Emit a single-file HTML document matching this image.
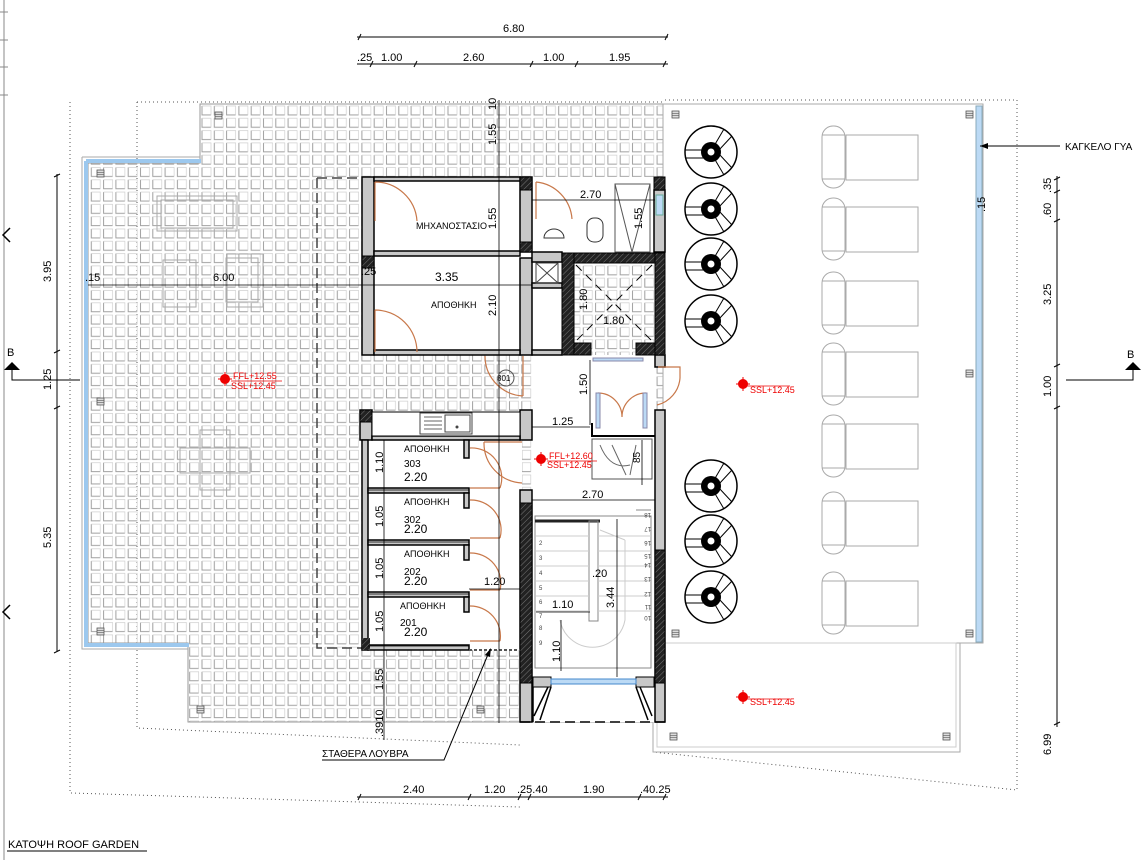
<!DOCTYPE html>
<html><head><meta charset="utf-8"><style>
html,body{margin:0;padding:0;background:#fff;}
svg{display:block;font-family:"Liberation Sans",sans-serif;}
</style></head><body>
<svg width="1144" height="860" viewBox="0 0 1144 860" xmlns="http://www.w3.org/2000/svg">
<defs>
<pattern id="tile" x="200" y="104" width="12.3" height="12.3" patternUnits="userSpaceOnUse">
<path d="M2 2 V11 H11" fill="none" stroke="#a0a0a0" stroke-width="1"/>
<path d="M2 2 H11 V11" fill="none" stroke="#d0d0d0" stroke-width="0.7"/>
</pattern>
<pattern id="hatch" width="4" height="4" patternUnits="userSpaceOnUse" patternTransform="rotate(45)">
<rect width="4" height="4" fill="#222"/><line x1="0" y1="0" x2="0" y2="4" stroke="#777" stroke-width="1"/>
</pattern>
<g id="umb">
<circle r="26" fill="#fff" stroke="#000" stroke-width="1.5"/>
<line x1="-26" y1="-2" x2="-6" y2="-2" stroke="#000"/><line x1="-25" y1="6" x2="-6" y2="6" stroke="#000"/>
<line x1="3" y1="-6" x2="13" y2="-23" stroke="#000"/><line x1="8" y1="-2" x2="21" y2="-16" stroke="#000"/>
<line x1="3" y1="6" x2="13" y2="23" stroke="#000"/><line x1="8" y1="2" x2="21" y2="16" stroke="#000"/>
<circle r="10" fill="#000"/><circle r="3.5" fill="#fff"/>
</g>
<g id="bed">
<rect x="0" y="0" width="23" height="62" rx="11" fill="#fff" stroke="#aaa"/>
<line x1="0" y1="9" x2="23" y2="9" stroke="#aaa"/><line x1="0" y1="53" x2="23" y2="53" stroke="#aaa"/>
<rect x="24" y="9" width="72" height="45" fill="#fff" stroke="#aaa"/>
</g>
<g id="drain"><rect x="0" y="0" width="7" height="7" fill="#ddd" stroke="#555" stroke-width="0.8"/><line x1="0" y1="2.5" x2="7" y2="2.5" stroke="#555" stroke-width="0.6"/><line x1="0" y1="4.5" x2="7" y2="4.5" stroke="#555" stroke-width="0.6"/></g>
<g id="mark"><circle r="5" fill="#e00"/><line x1="-7" y1="0" x2="7" y2="0" stroke="#e00"/><line x1="0" y1="-7" x2="0" y2="7" stroke="#e00"/></g>
</defs>

<line x1="4" y1="0" x2="4" y2="860" stroke="#888"/>
<g stroke="#888"><line x1="0" y1="12" x2="8" y2="12"/><line x1="0" y1="40" x2="8" y2="40"/><line x1="0" y1="67" x2="8" y2="67"/><line x1="0" y1="95" x2="8" y2="95"/></g>
<path d="M10 228 L3 235 L10 242 M10 605 L3 612 L10 619" fill="none" stroke="#000" stroke-width="1.5"/>

<g fill="none" stroke="#555" stroke-width="1" stroke-dasharray="1 3">
<path d="M70 102 V793 L520 807"/>
<path d="M137 102 H665 M137 102 V728 L520 745"/>
<path d="M665 100 H1017 V790 L653 752"/>
</g>

<path d="M200 104 H663 V722 H188 V643 H88 V163 H200 Z" fill="url(#tile)" stroke="#999"/>
<path d="M86 161 H201 M86 161 V645 H189" fill="none" stroke="#9cc8ee" stroke-width="4"/>
<path d="M82 157 H200 M82 157 V649 H188" fill="none" stroke="#aaa" stroke-width="1"/>
<g fill="none" stroke="#aaa">
<rect x="157" y="196" width="80" height="35"/><rect x="161" y="200" width="72" height="28"/>
<rect x="163" y="260" width="33" height="47"/><rect x="227" y="254" width="36" height="53"/><rect x="226" y="258" width="32" height="44"/>
<rect x="200" y="430" width="30" height="60"/><rect x="180" y="448" width="70" height="25"/>
</g>

<rect x="663" y="104" width="320" height="539" fill="#fff" stroke="#aaa"/>
<rect x="976" y="106" width="6" height="536" fill="#bcdaf5" stroke="#8ab"/>
<rect x="653" y="643" width="307" height="109" fill="#fff" stroke="#aaa"/>
<rect x="657" y="643" width="299" height="104" fill="none" stroke="#ccc"/>
<use href="#umb" x="711" y="152"/><use href="#umb" x="711" y="209"/><use href="#umb" x="711" y="264"/><use href="#umb" x="711" y="321"/>
<use href="#umb" x="711" y="486"/><use href="#umb" x="711" y="541"/><use href="#umb" x="711" y="597"/>
<use href="#bed" x="822" y="126"/><use href="#bed" x="822" y="198"/><use href="#bed" x="822" y="272"/><use href="#bed" x="822" y="343"/>
<use href="#bed" x="822" y="415"/><use href="#bed" x="822" y="492"/><use href="#bed" x="822" y="572"/>
<use href="#drain" x="672" y="111"/><use href="#drain" x="966" y="111"/><use href="#drain" x="966" y="370"/><use href="#drain" x="672" y="630"/><use href="#drain" x="966" y="630"/><use href="#drain" x="670" y="733"/><use href="#drain" x="943" y="733"/>
<use href="#drain" x="215" y="112"/><use href="#drain" x="97" y="170"/><use href="#drain" x="97" y="398"/><use href="#drain" x="97" y="628"/><use href="#drain" x="197" y="706"/><use href="#drain" x="477" y="706"/>

<path d="M317 178 H370 M317 178 V648 H372" fill="none" stroke="#444" stroke-width="1.5" stroke-dasharray="10 5"/>
<line x1="372" y1="183" x2="660" y2="183" stroke="#999" stroke-width="1.5" stroke-dasharray="8 4"/>

<rect x="362" y="177" width="170" height="178" fill="#fff"/>
<rect x="532" y="177" width="133" height="76" fill="#fff"/>
<rect x="532" y="253" width="30" height="102" fill="#fff"/>
<rect x="532" y="355" width="123" height="135" fill="#fff"/>
<rect x="362" y="440" width="160" height="210" fill="#fff"/>
<rect x="520" y="490" width="145" height="232" fill="#fff"/>

<g fill="#c8c8c8" stroke="#000" stroke-width="1.5">
<rect x="362" y="177" width="12" height="178"/>
<rect x="520" y="177" width="12" height="75"/>
<rect x="520" y="258" width="12" height="97"/>
<rect x="374" y="251" width="146" height="5"/>
<rect x="374" y="350" width="146" height="5"/>
<rect x="374" y="177" width="146" height="4"/>
<rect x="532" y="252" width="30" height="10"/>
<rect x="532" y="283" width="30" height="5"/>
<rect x="532" y="350" width="30" height="5"/>
<rect x="654" y="190" width="11" height="62"/>
<rect x="655" y="355" width="10" height="12"/>
<rect x="655" y="410" width="10" height="312"/>
<rect x="520" y="490" width="12" height="232"/>
<rect x="360" y="410" width="12" height="30"/>
<rect x="520" y="410" width="12" height="30"/>
<rect x="372" y="436" width="148" height="4"/>
</g>
<g fill="url(#hatch)" stroke="#000">
<rect x="520" y="177" width="12" height="13"/><rect x="520" y="242" width="12" height="10"/>
<rect x="362" y="256" width="12" height="12"/>
<rect x="654" y="177" width="11" height="13"/>
<rect x="562" y="253" width="103" height="10"/>
<rect x="562" y="253" width="12" height="102"/>
<rect x="655" y="253" width="10" height="102"/>
<rect x="574" y="343" width="17" height="12"/><rect x="636" y="343" width="19" height="12"/>
<rect x="360" y="410" width="12" height="12"/>
<rect x="520" y="503" width="12" height="180"/>
<rect x="655" y="550" width="10" height="133"/>
</g>
<rect x="656" y="195" width="7" height="20" fill="#bcdaf5" stroke="#6a9"/>
<g stroke="#000" stroke-dasharray="8 6"><line x1="576" y1="265" x2="652" y2="341"/><line x1="652" y1="265" x2="576" y2="341"/></g>
<rect x="536" y="263" width="22" height="20" fill="none" stroke="#444"/><path d="M536 263 L558 283 M558 263 L536 283" stroke="#444"/>
<rect x="615" y="184" width="35" height="68" fill="none" stroke="#555"/><path d="M615 184 L632 252 L650 184" fill="none" stroke="#555"/>
<rect x="587" y="218" width="16" height="24" rx="7" fill="#fff" stroke="#333"/>
<path d="M544 238 a10 9 0 0 1 20 0 z" fill="#fff" stroke="#333"/>
<g fill="none" stroke="#c8784a" stroke-width="1.2">
<path d="M375 182 A42 42 0 0 1 417 221 M375 182 V221"/>
<path d="M536 182 A40 40 0 0 1 572 219 M536 182 V219"/>
<path d="M375 310 A42 42 0 0 1 417 352 M375 310 V352"/>
<path d="M485 356 A40 40 0 0 0 523 396 M523 356 V396"/>
<path d="M484 442 A40 40 0 0 0 522 483 M484 442 H522"/>
<path d="M470 448 A30 30 0 0 1 500 488 M470 488 H500"/>
<path d="M470 500 A30 30 0 0 1 500 538 M470 538 H500"/>
<path d="M470 553 A30 30 0 0 1 500 590 M470 590 H500"/>
<path d="M470 606 A30 30 0 0 1 500 641 M470 641 H500"/>
<path d="M658 367 H680 V378 A30 30 0 0 1 657 405"/>
<path d="M598 393 A24 24 0 0 1 622 417 M646 393 A24 24 0 0 0 622 417"/>
</g>
<rect x="596" y="393" width="4" height="35" fill="#bcdaf5" stroke="#88a"/><rect x="643" y="393" width="4" height="35" fill="#bcdaf5" stroke="#88a"/>
<path d="M592 423 V436 H655" fill="none" stroke="#000" stroke-width="2"/>
<rect x="593" y="358" width="50" height="3" fill="#bcdaf5" stroke="#88a"/>
<rect x="592" y="439" width="60" height="40" fill="#fff" stroke="#555"/>
<path d="M600 445 q10 25 30 20 M612 445 l14 30 M636 445 l-6 30" fill="none" stroke="#666"/>
<rect x="372" y="412" width="148" height="24" fill="#fff" stroke="#000"/>
<rect x="420" y="413" width="52" height="21" fill="none" stroke="#444"/><rect x="445" y="415" width="25" height="17" fill="none" stroke="#444"/>
<g stroke="#666"><line x1="424" y1="417" x2="442" y2="417"/><line x1="424" y1="421" x2="442" y2="421"/><line x1="424" y1="425" x2="442" y2="425"/><line x1="424" y1="429" x2="442" y2="429"/></g>
<circle cx="457" cy="427" r="1.5" fill="#444"/>
<g fill="#c8c8c8" stroke="#000" stroke-width="1.5">
<rect x="362" y="440" width="6" height="210"/>
<rect x="368" y="488" width="101" height="5"/><rect x="368" y="540" width="101" height="5"/>
<rect x="368" y="592" width="101" height="5"/><rect x="368" y="645" width="101" height="5"/>
<rect x="464" y="440" width="5" height="18"/><rect x="464" y="493" width="5" height="15"/>
<rect x="464" y="545" width="5" height="15"/><rect x="464" y="597" width="5" height="15"/>
</g>
<rect x="362" y="638" width="8" height="12" fill="url(#hatch)"/>
<path d="M469 650 H520" stroke="#555" stroke-dasharray="3 2" stroke-width="2"/>
<rect x="535" y="516" width="116" height="152" fill="none" stroke="#888"/>
<line x1="535" y1="521" x2="600" y2="521" stroke="#222" stroke-width="3"/>
<rect x="589" y="521" width="9" height="100" fill="none" stroke="#888"/>
<g stroke="#ccc"><line x1="536" y1="536" x2="589" y2="536"/><line x1="536" y1="551" x2="589" y2="551"/><line x1="536" y1="566" x2="589" y2="566"/><line x1="536" y1="581" x2="589" y2="581"/><line x1="536" y1="596" x2="589" y2="596"/><line x1="536" y1="611" x2="589" y2="611"/>
<line x1="598" y1="536" x2="651" y2="536"/><line x1="598" y1="551" x2="651" y2="551"/><line x1="598" y1="566" x2="651" y2="566"/><line x1="598" y1="581" x2="651" y2="581"/><line x1="598" y1="596" x2="651" y2="596"/><line x1="598" y1="611" x2="651" y2="611"/></g>
<path d="M560 620 A33 33 0 0 0 625 620 L625 540 M625 540 L600 530" fill="none" stroke="#ccc"/>
<line x1="636" y1="510" x2="651" y2="510" stroke="#888"/>
<g font-size="6" fill="#444">
<text x="539" y="545">2</text><text x="539" y="560">3</text><text x="539" y="575">4</text><text x="539" y="590">5</text><text x="539" y="604">6</text><text x="539" y="618">7</text><text x="539" y="630">8</text><text x="539" y="645">9</text>
</g>
<g font-size="6" fill="#444" transform="rotate(180 645 570)">
<text x="639" y="627">18</text><text x="639" y="613">17</text><text x="639" y="599">16</text><text x="639" y="586">15</text><text x="639" y="577">14</text><text x="639" y="563">13</text><text x="639" y="548">12</text><text x="639" y="535">11</text><text x="639" y="524">10</text>
</g>
<rect x="533" y="677" width="18" height="10" fill="#c8c8c8" stroke="#000"/><rect x="636" y="677" width="18" height="10" fill="#c8c8c8" stroke="#000"/>
<rect x="551" y="679" width="85" height="5" fill="#bcdaf5" stroke="#48c"/>
<path d="M533 687 V722 M551 687 L540 720 M548 687 L534 716 M636 687 L648 720 M640 687 L652 716" stroke="#000" fill="none" stroke-width="1.5"/>
<line x1="520" y1="722" x2="665" y2="722" stroke="#000" stroke-width="1.5" stroke-dasharray="10 5"/>

<g stroke="#000" stroke-width="0.8">
<line x1="499" y1="100" x2="499" y2="723"/>
<line x1="532" y1="200" x2="655" y2="200"/>
<line x1="88" y1="285" x2="532" y2="285"/>
<line x1="590" y1="360" x2="590" y2="425"/>
<line x1="532" y1="427" x2="590" y2="427"/>
<line x1="532" y1="500" x2="655" y2="500"/>
<line x1="368" y1="490" x2="469" y2="490"/><line x1="368" y1="542" x2="469" y2="542"/><line x1="368" y1="594" x2="469" y2="594"/><line x1="368" y1="646" x2="469" y2="646"/>
<line x1="469" y1="589" x2="520" y2="589"/>
<line x1="536" y1="612" x2="590" y2="612"/>
<line x1="561" y1="620" x2="561" y2="671"/>
<line x1="617" y1="519" x2="617" y2="677"/>
<line x1="384" y1="440" x2="384" y2="740"/>
<line x1="642" y1="440" x2="642" y2="485"/>
</g>

<g stroke="#000" stroke-width="1">
<line x1="357" y1="37" x2="668" y2="37"/>
<line x1="357" y1="64" x2="668" y2="64"/>
<line x1="357" y1="797" x2="668" y2="797"/>
<line x1="57" y1="174" x2="57" y2="651"/>
<line x1="1057" y1="176" x2="1057" y2="727"/>
</g>
<g stroke="#000" stroke-width="1">
<path d="M358 40 l3 -6 M665 40 l3 -6"/>
<path d="M370 67 l3 -6 M414 67 l3 -6 M530 67 l3 -6 M575 67 l3 -6 M663 67 l3 -6"/>
<path d="M358 800 l3 -6 M468 800 l3 -6 M518 800 l3 -6 M528 800 l3 -6 M638 800 l3 -6 M663 800 l3 -6"/>
<path d="M54 177 l6 -3 M54 353 l6 -3 M54 409 l6 -3 M54 653 l6 -3"/>
<path d="M1054 180 l6 -3 M1054 193 l6 -3 M1054 222 l6 -3 M1054 367 l6 -3 M1054 409 l6 -3 M1054 725 l6 -3"/>
</g>

<g font-size="11" fill="#000">
<text x="503" y="32">6.80</text>
<text x="357" y="61">.25</text><text x="381" y="61">1.00</text><text x="463" y="61">2.60</text><text x="543" y="61">1.00</text><text x="609" y="61">1.95</text>
<text x="403" y="793">2.40</text><text x="484" y="793">1.20</text><text x="517" y="793">.25.40</text><text x="583" y="793">1.90</text><text x="640" y="793">.40.25</text>
<text x="85" y="281">.15</text><text x="213" y="281">6.00</text>
<text x="435" y="281" font-size="12">3.35</text>
<text x="361" y="275">.25</text>
<text x="580" y="198">2.70</text>
<text x="603" y="324">1.80</text>
<text x="552" y="425">1.25</text>
<text x="582" y="498">2.70</text>
<text x="484" y="585">1.20</text>
<text x="552" y="608">1.10</text>
<text x="592" y="577">.20</text>
<text x="404" y="481" font-size="12">2.20</text><text x="404" y="533" font-size="12">2.20</text><text x="404" y="585" font-size="12">2.20</text><text x="404" y="636" font-size="12">2.20</text>
<text x="404" y="467" font-size="10">303</text><text x="404" y="523" font-size="10">302</text><text x="404" y="575" font-size="10">202</text><text x="400" y="626" font-size="10">201</text>
</g>
<g font-size="9" fill="#000">
<text x="416" y="229">ΜΗΧΑΝΟΣΤΑΣΙΟ</text>
<text x="431" y="308">ΑΠΟΘΗΚΗ</text>
<text x="404" y="452">ΑΠΟΘΗΚΗ</text><text x="404" y="505">ΑΠΟΘΗΚΗ</text><text x="404" y="557">ΑΠΟΘΗΚΗ</text><text x="400" y="609">ΑΠΟΘΗΚΗ</text>
<text x="497" y="381" font-size="8">301</text>
</g>
<circle cx="506" cy="378" r="8" fill="none" stroke="#555"/>
<g font-size="11" fill="#000">
<text transform="translate(51,282) rotate(-90)">3.95</text>
<text transform="translate(51,390) rotate(-90)">1.25</text>
<text transform="translate(51,548) rotate(-90)">5.35</text>
<text transform="translate(1051,193) rotate(-90)">.35</text>
<text transform="translate(1051,218) rotate(-90)">.60</text>
<text transform="translate(1051,305) rotate(-90)">3.25</text>
<text transform="translate(1051,397) rotate(-90)">1.00</text>
<text transform="translate(1051,755) rotate(-90)">6.99</text>
<text transform="translate(496,145) rotate(-90)">1.55</text>
<text transform="translate(496,110) rotate(-90)">10</text>
<text transform="translate(496,229) rotate(-90)">1.55</text>
<text transform="translate(496,316) rotate(-90)">2.10</text>
<text transform="translate(642,229) rotate(-90)">1.55</text>
<text transform="translate(587,310) rotate(-90)">1.80</text>
<text transform="translate(587,395) rotate(-90)">1.50</text>
<text transform="translate(383,473) rotate(-90)">1.10</text>
<text transform="translate(383,527) rotate(-90)">1.05</text>
<text transform="translate(383,579) rotate(-90)">1.05</text>
<text transform="translate(383,632) rotate(-90)">1.05</text>
<text transform="translate(383,690) rotate(-90)">1.55</text>
<text transform="translate(383,737) rotate(-90)">.3910</text>
<text transform="translate(560,662) rotate(-90)">1.10</text>
<text transform="translate(614,608) rotate(-90)">3.44</text>
<text transform="translate(640,463) rotate(-90)" font-size="10">85</text>
<text transform="translate(985,212) rotate(-90)">.15</text>
</g>

<g font-size="9" fill="#e00">
<use href="#mark" x="225" y="379"/><text x="233" y="379">FFL+12.55</text><text x="231" y="389">SSL+12.45</text>
<use href="#mark" x="743" y="384"/><text x="750" y="393">SSL+12.45</text>
<use href="#mark" x="541" y="459"/><text x="549" y="459">FFL+12.60</text><text x="547" y="468">SSL+12.45</text>
<use href="#mark" x="743" y="697"/><text x="750" y="705">SSL+12.45</text>
</g>
<g stroke="#e00" stroke-width="0.7"><line x1="231" y1="381" x2="282" y2="381"/><line x1="747" y1="386" x2="790" y2="386"/><line x1="547" y1="461" x2="597" y2="461"/><line x1="747" y1="699" x2="790" y2="699"/></g>

<g fill="#000" font-size="11">
<text x="7" y="356">B</text><path d="M4 370 L12 362 L20 370 Z"/><path d="M12 370 V380 H80" fill="none" stroke="#000"/>
<text x="1127" y="358">B</text><path d="M1125 370 L1133 362 L1141 370 Z"/><path d="M1133 370 V380 H1066" fill="none" stroke="#000"/>
</g>

<line x1="980" y1="146" x2="1060" y2="146" stroke="#000"/><path d="M980 146 l8 -3 v6 z" fill="#000"/>
<text x="1065" y="150" font-size="10">ΚΑΓΚΕΛΟ ΓΥΑ</text>
<text x="322" y="757" font-size="10">ΣΤΑΘΕΡΑ ΛΟΥΒΡΑ</text>
<path d="M322 760 H444 L489 652" fill="none" stroke="#000"/><path d="M491 648 l-1 9 l-5 -2 z" fill="#000"/>
<text x="8" y="848" font-size="11">ΚΑΤΟΨΗ ROOF GARDEN</text>
<line x1="7" y1="851" x2="147" y2="851" stroke="#000"/>
</svg>
</body></html>
